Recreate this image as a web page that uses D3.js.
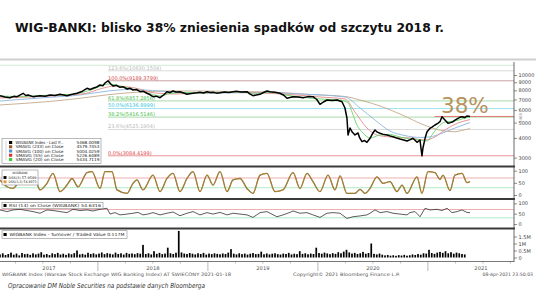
<!DOCTYPE html>
<html>
<head>
<meta charset="utf-8">
<script src="https://d3js.org/d3.v7.min.js"></script>
<style>
body{margin:0;background:#fff;}
svg{display:block;}
text{font-family:"DejaVu Sans",sans-serif;}
</style>
</head>
<body>
<svg id="chart" width="536" height="293"></svg>
<script>
// time is in decimal years
var years=[2017,2018,2019,2020,2021];

var price=[[2017.11,7398],[2017.155,7261],[2017.20,7187],[2017.235,7330],[2017.265,7295],[2017.32,7663],[2017.345,7420],[2017.365,7475],[2017.41,7295],[2017.44,7350],[2017.474,7398],[2017.52,7330],[2017.565,7475],[2017.61,7420],[2017.655,7551],[2017.69,7470],[2017.719,7398],[2017.76,7520],[2017.81,7663],[2017.86,7900],[2017.901,8239],[2017.93,8100],[2017.955,8239],[2017.99,8400],[2018.019,8645],[2018.045,8560],[2018.065,8901],[2018.092,9189],[2018.115,8800],[2018.137,8521],[2018.17,8600],[2018.201,8359],[2018.23,8420],[2018.265,8157],[2018.29,8250],[2018.319,8038],[2018.35,8100],[2018.383,7843],[2018.41,7900],[2018.446,7663],[2018.475,7500],[2018.501,7295],[2018.53,7350],[2018.565,7187],[2018.60,7500],[2018.628,7843],[2018.655,7750],[2018.683,7921],[2018.71,7800],[2018.746,7843],[2018.78,7700],[2018.81,7551],[2018.835,7620],[2018.865,7663],[2018.90,7720],[2018.928,7775],[2018.96,7700],[2018.992,7843],[2019.02,7760],[2019.046,7775],[2019.08,7680],[2019.11,7730],[2019.15,7820],[2019.19,7760],[2019.228,7843],[2019.26,7900],[2019.30,7800],[2019.355,7843],[2019.38,7600],[2019.41,7398],[2019.44,7480],[2019.474,7551],[2019.505,7750],[2019.537,7921],[2019.565,7843],[2019.61,7780],[2019.655,7663],[2019.69,7450],[2019.719,7124],[2019.745,7200],[2019.774,7295],[2019.82,7250],[2019.865,7187],[2019.91,7300],[2019.955,7295],[2019.99,7000],[2020.019,6527],[2020.05,6750],[2020.083,6952],[2020.13,6900],[2020.174,6952],[2020.20,6850],[2020.219,6779],[2020.246,6185],[2020.264,5348],[2020.274,4176],[2020.292,4624],[2020.31,4379],[2020.337,4176],[2020.365,4298],[2020.38,4000],[2020.401,3788],[2020.425,3850],[2020.446,3755],[2020.474,3980],[2020.50,4300],[2020.519,4490],[2020.54,4350],[2020.565,4279],[2020.60,4200],[2020.628,4176],[2020.655,4120],[2020.683,4074],[2020.715,4000],[2020.746,3939],[2020.78,3880],[2020.81,3826],[2020.84,3900],[2020.864,3980],[2020.885,3850],[2020.901,3755],[2020.928,3882],[2020.946,3084],[2020.955,3456],[2020.975,4000],[2020.992,4379],[2021.019,4603],[2021.04,4700],[2021.064,4830],[2021.09,4950],[2021.11,5068],[2021.128,5450],[2021.155,5194],[2021.183,4951],[2021.205,5000],[2021.228,5068],[2021.25,5200],[2021.274,5325],[2021.29,5400],[2021.31,5450],[2021.335,5380],[2021.355,5506],[2021.383,5468]];

var sma233=[[2017.11,6462],[2017.383,6653],[2017.655,6900],[2017.928,7260],[2018.11,7530],[2018.383,7807],[2018.655,7922],[2018.928,7922],[2019.201,7864],[2019.565,7807],[2019.928,7530],[2020.246,7313],[2020.383,6950],[2020.565,6368],[2020.746,5668],[2020.992,4750],[2021.155,4420],[2021.246,4380],[2021.32,4480],[2021.383,4580]];
var sma100=[[2017.11,6850],[2017.474,7156],[2017.837,7475],[2018.092,7922],[2018.292,8097],[2018.565,7922],[2018.837,7695],[2019.11,7695],[2019.474,7750],[2019.837,7584],[2020.246,7260],[2020.383,6186],[2020.519,5194],[2020.655,4426],[2020.792,4140],[2020.928,4030],[2021.019,4060],[2021.11,4236],[2021.246,4624],[2021.383,5004]];
var sma55=[[2017.11,7156],[2017.383,7260],[2017.655,7420],[2017.883,7640],[2018.019,8157],[2018.155,8521],[2018.337,8275],[2018.519,7695],[2018.701,7584],[2018.928,7695],[2019.201,7750],[2019.474,7695],[2019.746,7530],[2020.019,7260],[2020.246,7052],[2020.337,5835],[2020.446,4624],[2020.537,4176],[2020.655,4056],[2020.837,3997],[2020.974,3882],[2021.064,4056],[2021.155,4490],[2021.274,4972],[2021.383,5226]];
var sma20=[[2017.11,7367],[2017.292,7313],[2017.474,7420],[2017.655,7475],[2017.837,7695],[2017.974,8216],[2018.092,8773],[2018.183,8583],[2018.292,8216],[2018.428,7807],[2018.565,7367],[2018.655,7640],[2018.792,7750],[2018.928,7695],[2019.11,7750],[2019.337,7807],[2019.428,7584],[2019.565,7807],[2019.701,7475],[2019.837,7260],[2020.019,7052],[2020.201,6950],[2020.274,6653],[2020.31,5835],[2020.355,4830],[2020.41,4299],[2020.474,3997],[2020.565,4176],[2020.655,4205],[2020.746,4056],[2020.837,3939],[2020.928,3882],[2020.992,3826],[2021.037,4176],[2021.092,4690],[2021.155,5045],[2021.246,5119],[2021.31,5270],[2021.383,5435]];

var fibLevels=["138.2%","123.6%","100.0%","61.8%","50.0%","38.2%","23.6%","0.0%"];
var fibValues=[11521.4727,10630.1504,9189.3799,6857.2856,6136.8999,5416.5146,4525.1904,3084.4199];
var fibLabelled=[false,true,true,true,true,true,true,true];
var lastPrice=5468.0098;

var stoch=[[2017.11,62],[2017.174,34],[2017.228,27],[2017.292,62],[2017.355,89],[2017.401,96],[2017.446,48],[2017.474,21],[2017.537,48],[2017.592,89],[2017.655,14],[2017.719,41],[2017.765,68],[2017.819,34],[2017.901,92],[2017.946,96],[2018.019,27],[2018.065,96],[2018.128,96],[2018.174,21],[2018.265,7],[2018.319,48],[2018.355,62],[2018.41,21],[2018.501,82],[2018.565,14],[2018.628,68],[2018.683,89],[2018.746,14],[2018.81,68],[2018.865,96],[2018.928,14],[2018.992,82],[2019.046,41],[2019.11,96],[2019.174,14],[2019.228,62],[2019.292,68],[2019.355,27],[2019.41,7],[2019.474,82],[2019.537,89],[2019.61,14],[2019.683,21],[2019.774,92],[2019.837,27],[2019.901,89],[2019.955,55],[2020.019,14],[2020.092,82],[2020.155,21],[2020.201,79],[2020.264,7],[2020.337,7],[2020.383,23],[2020.428,7],[2020.474,27],[2020.537,75],[2020.592,48],[2020.655,55],[2020.719,14],[2020.765,41],[2020.81,7],[2020.901,75],[2020.946,7],[2021.001,96],[2021.064,92],[2021.11,64],[2021.137,82],[2021.201,18],[2021.246,82],[2021.31,89],[2021.355,51],[2021.383,55]];

var rsi=[[2017.11,68],[2017.174,60],[2017.228,68],[2017.292,71],[2017.355,65],[2017.41,60],[2017.474,52],[2017.537,68],[2017.592,65],[2017.655,60],[2017.719,55],[2017.774,71],[2017.837,65],[2017.901,68],[2017.955,63],[2018.019,71],[2018.083,76],[2018.11,48],[2018.155,55],[2018.201,44],[2018.265,48],[2018.319,52],[2018.365,56],[2018.41,44],[2018.455,48],[2018.501,55],[2018.565,44],[2018.628,52],[2018.683,58],[2018.746,40],[2018.81,52],[2018.865,60],[2018.928,44],[2018.992,55],[2019.046,48],[2019.11,56],[2019.174,44],[2019.228,52],[2019.292,48],[2019.355,44],[2019.41,32],[2019.474,55],[2019.537,60],[2019.565,52],[2019.628,35],[2019.683,44],[2019.746,56],[2019.774,63],[2019.837,52],[2019.901,55],[2019.955,44],[2020.019,32],[2020.083,52],[2020.137,55],[2020.201,52],[2020.264,27],[2020.319,35],[2020.383,39],[2020.446,44],[2020.474,52],[2020.519,68],[2020.565,55],[2020.628,60],[2020.683,52],[2020.746,48],[2020.81,44],[2020.837,55],[2020.883,60],[2020.928,35],[2020.974,76],[2021.019,68],[2021.083,71],[2021.128,65],[2021.174,76],[2021.219,55],[2021.265,60],[2021.31,68],[2021.355,56],[2021.383,54.6]];

// turnover in millions, one bar per step
var volStart=2017.11, volStep=0.025;
var volume=[0.22,0.30,0.18,0.25,0.35,0.20,0.28,0.15,0.32,0.24,
0.26,0.19,0.30,0.22,0.28,0.38,0.20,0.25,0.17,0.30,
0.24,0.33,0.21,0.27,0.19,0.29,0.23,0.31,0.50,0.22,
0.26,0.20,0.34,0.25,0.30,0.22,0.28,0.36,0.24,0.31,
0.27,0.22,0.35,0.25,0.30,0.21,0.33,0.26,0.29,0.24,
0.31,0.27,0.90,0.25,0.30,0.22,0.45,0.26,0.33,0.24,
0.28,0.70,0.30,0.25,0.34,1.90,0.36,0.28,0.25,0.32,
0.27,0.22,0.30,0.25,0.33,0.21,0.28,0.24,0.30,0.26,
0.23,0.29,0.25,0.35,0.60,0.27,0.22,0.30,0.24,0.28,
0.21,0.27,0.32,0.24,0.26,0.42,0.23,0.29,0.22,0.27,
0.30,0.24,0.21,0.28,0.25,0.33,0.22,0.27,0.24,0.45,
0.26,0.30,0.23,0.28,0.25,0.70,0.32,0.27,0.35,0.29,
0.24,0.31,0.26,0.38,0.30,0.42,0.55,0.36,0.28,0.33,
0.25,0.30,0.40,0.27,0.32,1.00,0.26,0.22,0.28,0.20,
0.15,0.18,0.13,0.16,0.12,0.17,0.14,0.19,0.13,0.16,
0.22,0.18,0.25,0.20,0.30,0.28,0.55,0.32,0.26,0.35,
0.40,0.33,0.45,0.30,0.38,0.27,0.35,0.30,0.25,0.22];

var priceTicks=[3000,4000,5000,6000,7000,8000,9000,10000];
var oscTicks=[0,50,100];
var volTicks=[0,0.5,1,1.5];

var legendRows=[
  {name:"WIGBANK Index - Last P...",value:"5468.0098",color:"#000000"},
  {name:"SMAVG (233)  on Close",value:"4579.7453",color:"#9a5a2a"},
  {name:"SMAVG (100)  on Close",value:"5004.0259",color:"#4a8fd8"},
  {name:"SMAVG (55)  on Close",value:"5226.6489",color:"#e0303c"},
  {name:"SMAVG (20)  on Close",value:"5434.7119",color:"#36d236"}
];

var width=536, height=293, axisX=514;
var svg=d3.select("#chart");

// title
svg.append("text")
  .attr("x",15).attr("y",31.5)
  .attr("font-size","12.5px").attr("font-weight","bold").attr("fill","#111")
  .attr("textLength",429).attr("lengthAdjust","spacingAndGlyphs")
  .text("WIG-BANKI: blisko 38% zniesienia spadków od szczytu 2018 r.");
svg.append("line").attr("x1",0).attr("x2",width).attr("y1",59.5).attr("y2",59.5)
  .attr("stroke","#cfcfcf").attr("stroke-width",2);

var x=d3.scaleLinear().domain([2017.11,2017.11+513/110]).range([0,513]);
var yPrice=d3.scaleLog().domain([3000,10000]).range([157.7,75]);
var yStoch=d3.scaleLinear().domain([0,100]).range([195,170.7]);
var yRsi=d3.scaleLinear().domain([0,100]).range([224,203.3]);
var yVol=d3.scaleLinear().domain([0,1.5]).range([257.5,236.5]);

svg.append("clipPath").attr("id","pclip").append("rect")
  .attr("x",0).attr("y",62).attr("width",axisX).attr("height",103);

var pricePanel=svg.append("g").attr("clip-path","url(#pclip)");

// fibonacci retracements
var fibLine=["#d3e9d3","#dadada","#c9a0a0","#a8dca8","#9ee3ee","#a8dca8","#dadada","#e89494"];
var fibText=["#b8b8b8","#b8b8b8","#d04848","#48bd48","#2fc3d6","#48bd48","#b8b8b8","#e04040"];
fibValues.forEach(function(v,i){
  pricePanel.append("line")
    .attr("x1",i==0?0:x(2018.092)).attr("x2",axisX)
    .attr("y1",yPrice(v)).attr("y2",yPrice(v))
    .attr("stroke",fibLine[i]).attr("stroke-width",1);
  if(fibLabelled[i]){
    pricePanel.append("text")
      .attr("x",x(2018.092)).attr("y",yPrice(v)-1.2)
      .attr("font-size","5px").attr("fill",fibText[i])
      .text(fibLevels[i]+"("+v.toFixed(4)+")");
  }
});

// last price marker line
pricePanel.append("line")
  .attr("x1",x(2021.06)).attr("x2",axisX)
  .attr("y1",yPrice(lastPrice)).attr("y2",yPrice(lastPrice))
  .attr("stroke","#e86a6a").attr("stroke-width",0.9);

var line=function(sy){return d3.line().x(function(d){return x(d[0]);}).y(function(d){return sy(d[1]);});};

var smaSets=[
  {data:sma233,color:"#c4a88c"},
  {data:sma100,color:"#8cb6e2"},
  {data:sma55,color:"#e48a8a"},
  {data:sma20,color:"#66d466"}
];
smaSets.forEach(function(s){
  pricePanel.append("path").datum(s.data)
    .attr("d",line(yPrice).curve(d3.curveMonotoneX))
    .attr("fill","none").attr("stroke",s.color).attr("stroke-width",0.9);
});

pricePanel.append("path").datum(price)
  .attr("d",line(yPrice))
  .attr("fill","none").attr("stroke","#000").attr("stroke-width",1.5)
  .attr("stroke-linejoin","round");

svg.append("text")
  .attr("x",441).attr("y",112.5)
  .attr("font-family","'Liberation Sans',Arial,sans-serif")
  .attr("font-size","21.5px").attr("fill","#b8925f")
  .text("38%");

// price legend
var lg=svg.append("g");
lg.append("rect").attr("x",2).attr("y",138.5).attr("width",99).attr("height",25)
  .attr("fill","#fff").attr("stroke","#8a8a8a").attr("stroke-width",0.6);
lg.append("line").attr("x1",6).attr("x2",6).attr("y1",141).attr("y2",160)
  .attr("stroke","#aaa").attr("stroke-width",0.5);
legendRows.forEach(function(d,i){
  var cy=142.5+i*4.25;
  lg.append("rect").attr("x",9).attr("y",cy-1.5).attr("width",3.2).attr("height",3)
    .attr("fill",d.color);
  lg.append("text").attr("x",15.5).attr("y",cy+1.5).attr("font-size","4.2px").attr("fill","#222")
    .attr("textLength",48).attr("lengthAdjust","spacingAndGlyphs").text(d.name);
  lg.append("text").attr("x",76.5).attr("y",cy+1.5).attr("font-size","4.2px").attr("fill","#222")
    .attr("textLength",23).attr("lengthAdjust","spacingAndGlyphs").text(d.value);
});

// oscillator reference lines
[yStoch,yRsi].forEach(function(sy){
  svg.append("line").attr("x1",0).attr("x2",axisX).attr("y1",sy(70)).attr("y2",sy(70))
    .attr("stroke","#e89a9a").attr("stroke-width",0.8);
  svg.append("line").attr("x1",0).attr("x2",axisX).attr("y1",sy(30)).attr("y2",sy(30))
    .attr("stroke","#9ee4b8").attr("stroke-width",0.8);
});

svg.append("path").datum(stoch)
  .attr("d",line(yStoch).curve(d3.curveMonotoneX))
  .attr("fill","none").attr("stroke","#7a6226").attr("stroke-width",1.3);
svg.append("path").datum(stoch)
  .attr("d",line(yStoch).curve(d3.curveMonotoneX))
  .attr("fill","none").attr("stroke","#e0a040").attr("stroke-width",0.5);

svg.append("path").datum(rsi)
  .attr("d",line(yRsi))
  .attr("fill","none").attr("stroke","#333").attr("stroke-width",0.8);

// volume
var barW=1.7;
svg.append("g").selectAll("rect").data(volume).enter().append("rect")
  .attr("x",function(d,i){return x(volStart+i*volStep)-barW/2;})
  .attr("y",function(d){return yVol(d);})
  .attr("width",barW)
  .attr("height",function(d){return yVol(0)-yVol(d);})
  .attr("fill","#000");

// panel separators
[166.5,199,228.5].forEach(function(y){
  svg.append("line").attr("x1",0).attr("x2",axisX+1).attr("y1",y).attr("y2",y)
    .attr("stroke","#3a3a3a").attr("stroke-width",2);
});

// small legends for lower panels
function boxLegend(x0,y0,w,h){
  return svg.append("rect").attr("x",x0).attr("y",y0).attr("width",w).attr("height",h)
    .attr("fill","#fff").attr("stroke","#8a8a8a").attr("stroke-width",0.6);
}
boxLegend(2,170,36,15);
svg.append("text").attr("x",20).attr("y",174).attr("text-anchor","middle")
  .attr("font-size","3.2px").attr("fill","#222").text("WIGBANK");
[["DSS(3)","57.9589","#000"],["DSS(3,3)","54.8973","#e8962e"]].forEach(function(d,i){
  var cy=177.5+i*4.3;
  svg.append("rect").attr("x",3.5).attr("y",cy-1.4).attr("width",3).attr("height",2.8).attr("fill",d[2]);
  svg.append("text").attr("x",8.5).attr("y",cy+1.3).attr("font-size","3.3px").attr("fill","#222")
    .attr("textLength",28).attr("lengthAdjust","spacingAndGlyphs").text(d[0]+"  "+d[1]);
});

boxLegend(2,202.5,101,6);
svg.append("rect").attr("x",3.5).attr("y",204).attr("width",3).attr("height",3).attr("fill","#000");
svg.append("text").attr("x",9).attr("y",207.2).attr("font-size","4.2px").attr("fill","#222")
  .attr("textLength",92).attr("lengthAdjust","spacingAndGlyphs")
  .text("RSI (14)  on Close (WIGBANK)  54.6316");

boxLegend(2,230.7,125,7.6);
svg.append("rect").attr("x",3.5).attr("y",233).attr("width",3.2).attr("height",3).attr("fill","#000");
svg.append("text").attr("x",9.5).attr("y",236.2).attr("font-size","4.3px").attr("fill","#222")
  .attr("textLength",115).attr("lengthAdjust","spacingAndGlyphs")
  .text("WIGBANK Index - Turnover / Traded Value  0.117M");

// right axes
function styleAxis(g){
  g.select(".domain").remove();
  g.selectAll(".tick line").attr("stroke","#444").attr("stroke-width",0.6);
  g.selectAll(".tick text").attr("font-size","5px").attr("fill","#444")
    .attr("font-family","'DejaVu Sans',sans-serif");
}
svg.append("g").attr("transform","translate("+axisX+",0)")
  .call(d3.axisRight(yPrice).tickValues(priceTicks).tickFormat(d3.format("d")).tickSize(3).tickPadding(1.5))
  .call(styleAxis);
svg.append("g").attr("transform","translate("+axisX+",0)")
  .call(d3.axisRight(yStoch).tickValues(oscTicks).tickSize(3).tickPadding(1.5)).call(styleAxis);
svg.append("g").attr("transform","translate("+axisX+",0)")
  .call(d3.axisRight(yRsi).tickValues(oscTicks).tickSize(3).tickPadding(1.5)).call(styleAxis);
svg.append("g").attr("transform","translate("+axisX+",0)")
  .call(d3.axisRight(yVol).tickValues(volTicks).tickSize(3).tickPadding(1.5)
    .tickFormat(function(d){return d==0?"0":d+"M";})).call(styleAxis);
svg.append("line").attr("x1",axisX).attr("x2",axisX).attr("y1",62).attr("y2",262)
  .attr("stroke","#444").attr("stroke-width",0.8);

// last price tag on axis
svg.append("text").attr("transform","translate(522,118) rotate(-90)")
  .attr("text-anchor","middle").attr("font-size","4px").attr("fill","#999")
  .text(lastPrice.toFixed(0));

// time axis
svg.append("line").attr("x1",0).attr("x2",axisX).attr("y1",261.5).attr("y2",261.5)
  .attr("stroke","#555").attr("stroke-width",0.8);
var qTicks=[];
years.forEach(function(yr){[0.25,0.5,0.75].forEach(function(q){qTicks.push(yr+q);});});
svg.append("g").selectAll("line").data(qTicks.filter(function(t){return x(t)>0&&x(t)<axisX;}))
  .enter().append("line")
  .attr("x1",function(d){return x(d);}).attr("x2",function(d){return x(d);})
  .attr("y1",261.5).attr("y2",263.5).attr("stroke","#777").attr("stroke-width",0.5);
svg.append("g").selectAll("line").data(years.filter(function(t){return x(t)>0;}))
  .enter().append("line")
  .attr("x1",function(d){return x(d);}).attr("x2",function(d){return x(d);})
  .attr("y1",261.5).attr("y2",271).attr("stroke","#888").attr("stroke-width",0.6);
svg.append("g").selectAll("text").data(years).enter().append("text")
  .attr("x",function(d){
    var a=Math.max(x(d),0), b=Math.min(x(d+1),axisX+20);
    return (a+b)/2;})
  .attr("y",269.5).attr("text-anchor","middle")
  .attr("font-size","5.2px").attr("fill","#555")
  .text(function(d){return d;});

// footer
svg.append("text").attr("x",2).attr("y",275.5).attr("font-size","4.6px").attr("fill","#555")
  .attr("textLength",229).attr("lengthAdjust","spacingAndGlyphs")
  .text("WIGBANK Index (Warsaw Stock Exchange WIG Banking Index) AT SWIECONY 2021-01-18");
svg.append("text").attr("x",293).attr("y",275.5).attr("font-size","4.6px").attr("fill","#555")
  .attr("textLength",107).attr("lengthAdjust","spacingAndGlyphs")
  .text("Copyright\u00a9 2021 Bloomberg Finance L.P.");
svg.append("text").attr("x",533).attr("y",275.5).attr("text-anchor","end")
  .attr("font-size","4.6px").attr("fill","#555")
  .text("08-Apr-2021 23:50:03");

svg.append("text").attr("x",8).attr("y",287.5)
  .attr("font-family","'Open Sans',sans-serif").attr("font-style","italic")
  .attr("font-size","6.8px").attr("fill","#333")
  .attr("textLength",197).attr("lengthAdjust","spacingAndGlyphs")
  .text("Opracowanie DM Noble Securities na podstawie danych Bloomberga");
</script>
</body>
</html>
